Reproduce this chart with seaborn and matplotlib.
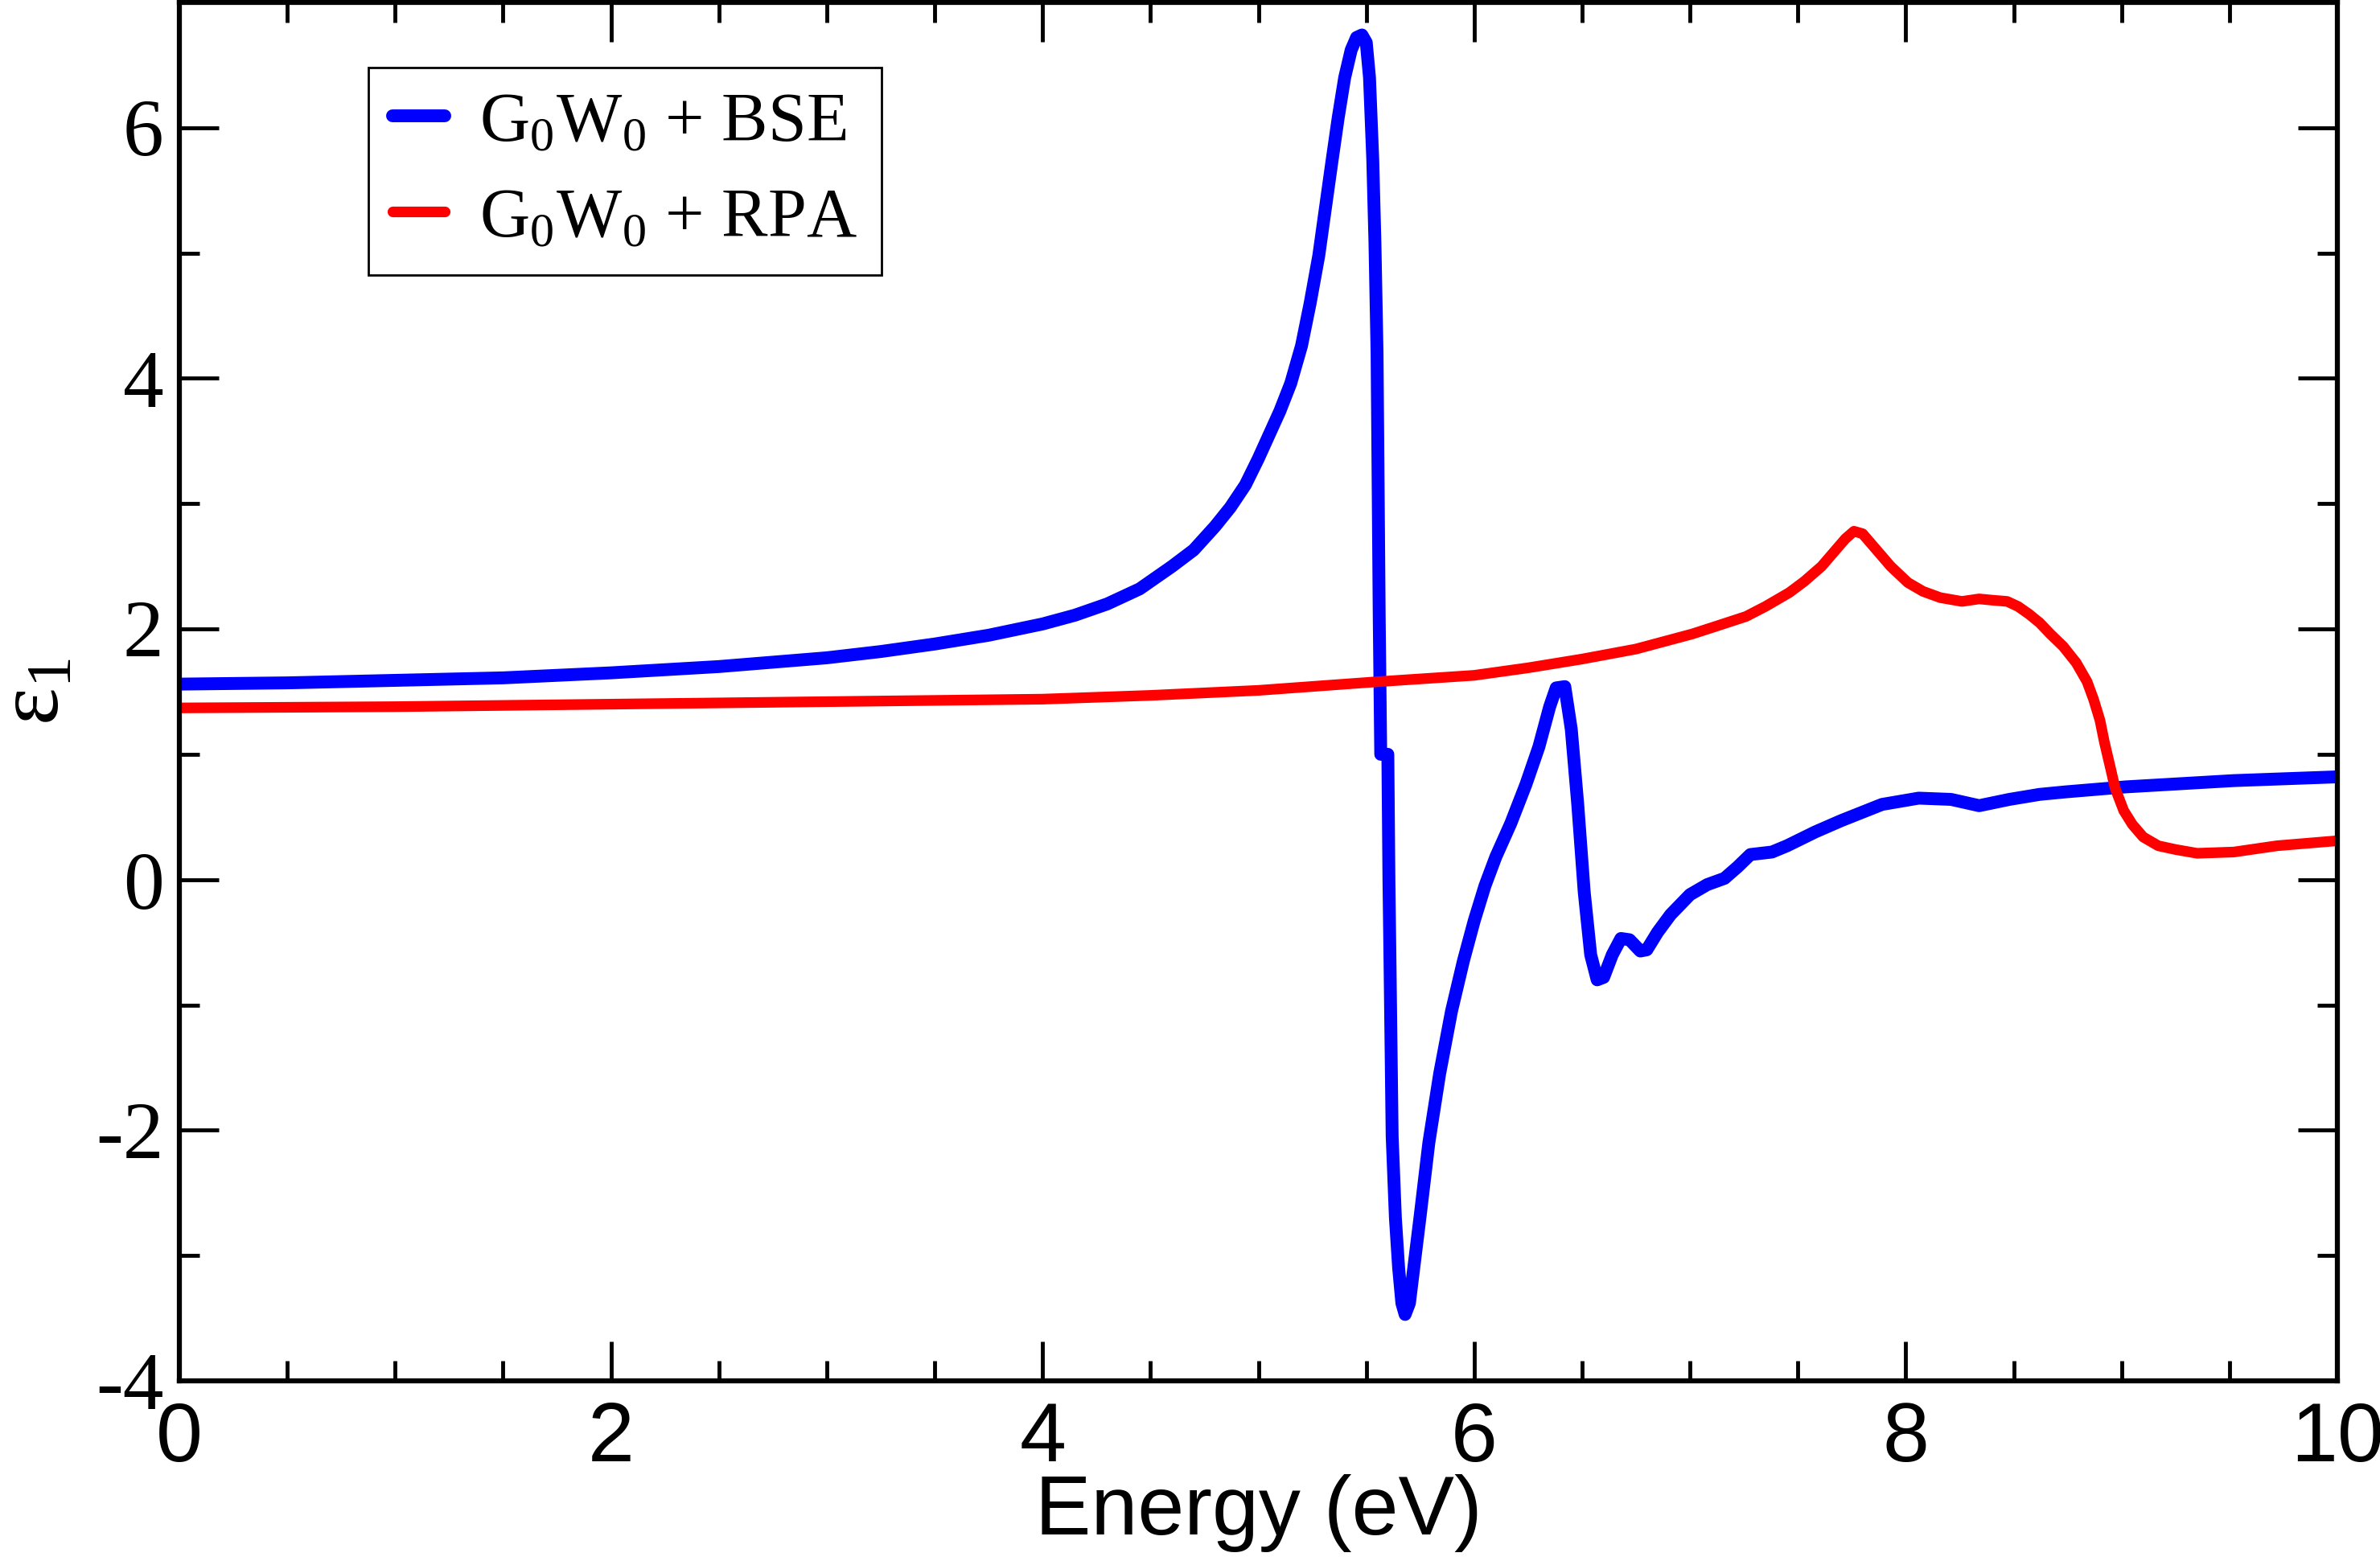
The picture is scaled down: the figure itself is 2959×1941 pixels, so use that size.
import pandas as pd
import seaborn as sns
import matplotlib.pyplot as plt
from matplotlib.ticker import MultipleLocator

# G0W0 + BSE, real part of dielectric function
energy_bse = [0.0, 0.5, 1.0, 1.5, 2.0, 2.5, 3.0, 3.25, 3.5, 3.75, 4.0, 4.15, 4.3, 4.45,
              4.6, 4.7, 4.8, 4.87, 4.94, 5.0, 5.05, 5.1, 5.15, 5.2, 5.24, 5.28, 5.31,
              5.34, 5.37, 5.40, 5.43, 5.455, 5.48, 5.50, 5.515, 5.53, 5.54, 5.55, 5.56,
              5.567, 5.60, 5.605, 5.61, 5.62, 5.635, 5.65, 5.665, 5.68, 5.70, 5.72, 5.75,
              5.79, 5.84, 5.895, 5.95, 6.0, 6.05, 6.10, 6.17, 6.24, 6.30, 6.35, 6.38, 6.42,
              6.45, 6.48, 6.51, 6.54, 6.57, 6.60, 6.64, 6.68, 6.72, 6.77, 6.80, 6.85, 6.91,
              7.0, 7.08, 7.16, 7.22, 7.28, 7.38, 7.45, 7.58, 7.7, 7.89, 8.06, 8.21, 8.34,
              8.48, 8.62, 8.74, 9.02, 9.52, 10.0]
eps1_bse = [1.56, 1.57, 1.59, 1.61, 1.65, 1.70, 1.77, 1.82, 1.88, 1.95, 2.04, 2.11, 2.20, 2.32,
            2.50, 2.63, 2.82, 2.97, 3.15, 3.36, 3.55, 3.74, 3.96, 4.26, 4.60, 4.98, 5.35,
            5.72, 6.08, 6.40, 6.62, 6.72, 6.74, 6.68, 6.40, 5.75, 5.10, 4.20, 2.10,
            1.00, 1.00, 0.00, -0.66, -2.05, -2.70, -3.10, -3.38, -3.47, -3.38, -3.10, -2.68,
            -2.10, -1.55, -1.05, -0.65, -0.33, -0.05, 0.18, 0.45, 0.76, 1.06, 1.38, 1.53, 1.54,
            1.20, 0.60, -0.10, -0.60, -0.80, -0.78, -0.60, -0.47, -0.48, -0.57, -0.56, -0.42, -0.28,
            -0.12, -0.04, 0.01, 0.10, 0.20, 0.22, 0.27, 0.38, 0.47, 0.60, 0.65, 0.64, 0.59,
            0.64, 0.68, 0.70, 0.74, 0.79, 0.82]

# G0W0 + RPA
energy_rpa = [0.0, 1.0, 2.0, 3.0, 4.0, 4.5, 5.0, 5.56, 6.0, 6.25, 6.5, 6.75, 7.01, 7.1,
              7.26, 7.35, 7.46, 7.53, 7.61, 7.66, 7.72, 7.76, 7.80, 7.85, 7.93, 8.01, 8.08,
              8.16, 8.26, 8.30, 8.34, 8.40, 8.47, 8.52, 8.57, 8.62, 8.67, 8.73, 8.79, 8.84,
              8.87, 8.90, 8.92, 8.95, 8.97, 9.01, 9.05, 9.1, 9.17, 9.25, 9.35, 9.52, 9.72,
              10.0]
eps1_rpa = [1.37, 1.38, 1.40, 1.42, 1.44, 1.47, 1.51, 1.58, 1.63, 1.69, 1.76, 1.84, 1.96, 2.01,
            2.10, 2.18, 2.29, 2.38, 2.50, 2.60, 2.72, 2.78, 2.76, 2.66, 2.50, 2.37, 2.30,
            2.25, 2.22, 2.23, 2.24, 2.23, 2.22, 2.18, 2.12, 2.05, 1.96, 1.86, 1.73, 1.58,
            1.44, 1.27, 1.10, 0.88, 0.73, 0.55, 0.44, 0.34, 0.27, 0.24, 0.21, 0.22, 0.27,
            0.31]

x_ticks = [0, 2, 4, 6, 8, 10]
y_ticks = [-4, -2, 0, 2, 4, 6]
y_tick_labels = ['-4', '-2', '0', '2', '4', '6']
series_labels = [r'G$_0$W$_0$ + BSE', r'G$_0$W$_0$ + RPA']

sns.set_theme(style='white')
plt.rcParams['font.family'] = ['Liberation Sans', 'DejaVu Sans']
plt.rcParams['mathtext.fontset'] = 'custom'
plt.rcParams['mathtext.rm'] = 'Liberation Serif'
plt.rcParams['mathtext.it'] = 'Liberation Serif:italic'
plt.rcParams['mathtext.default'] = 'rm'
plt.rcParams['axes.unicode_minus'] = False
for k in ['text.color', 'axes.labelcolor', 'xtick.color', 'ytick.color']:
    plt.rcParams[k] = 'black'

fig = plt.figure(figsize=(29.59, 19.41), dpi=100)
ax = fig.add_axes([223 / 2959, 1 - 1717 / 1941, 2683 / 2959, 1714 / 1941])

bse = pd.DataFrame({'energy': energy_bse, 'eps1': eps1_bse})
rpa = pd.DataFrame({'energy': energy_rpa, 'eps1': eps1_rpa})
sns.lineplot(data=bse, x='energy', y='eps1', ax=ax, color='#0000ff', linewidth=11.5,
             label=series_labels[0], sort=False, estimator=None)
sns.lineplot(data=rpa, x='energy', y='eps1', ax=ax, color='#ff0000', linewidth=9.5,
             label=series_labels[1], sort=False, estimator=None)

ax.set_xlim(0, 10)
ax.set_ylim(-4, 7)
ax.set_xticks(x_ticks)
ax.set_yticks(y_ticks)
ax.set_yticklabels(y_tick_labels)
ax.xaxis.set_minor_locator(MultipleLocator(0.5))
ax.yaxis.set_minor_locator(MultipleLocator(1))
for s in ax.spines.values():
    s.set_linewidth(4.5)
    s.set_color('black')
ax.tick_params(which='both', direction='in', top=True, right=True, bottom=True, left=True,
               color='black', width=3.5)
ax.tick_params(which='major', length=35)
ax.tick_params(which='minor', length=18)
ax.tick_params(axis='x', labelsize=75, pad=18)
ax.tick_params(axis='y', labelsize=73, pad=14)
for t in ax.get_yticklabels():
    t.set_fontfamily('Liberation Serif')

ax.set_xlabel('Energy (eV)', fontsize=75, labelpad=-4)
ax.set_ylabel('ε$_1$', fontsize=80, family='Liberation Serif', labelpad=16)

leg = ax.legend(loc='upper left', bbox_to_anchor=(0.0876, 0.953), borderaxespad=0,
                prop={'family': 'Liberation Serif', 'size': 62}, frameon=True,
                fancybox=False, framealpha=1, edgecolor='black', handlelength=0.75,
                handletextpad=0.5, borderpad=0.35, labelspacing=0.46)
leg.get_frame().set_linewidth(2)

fig.savefig('out.png', dpi=100, facecolor='white')
